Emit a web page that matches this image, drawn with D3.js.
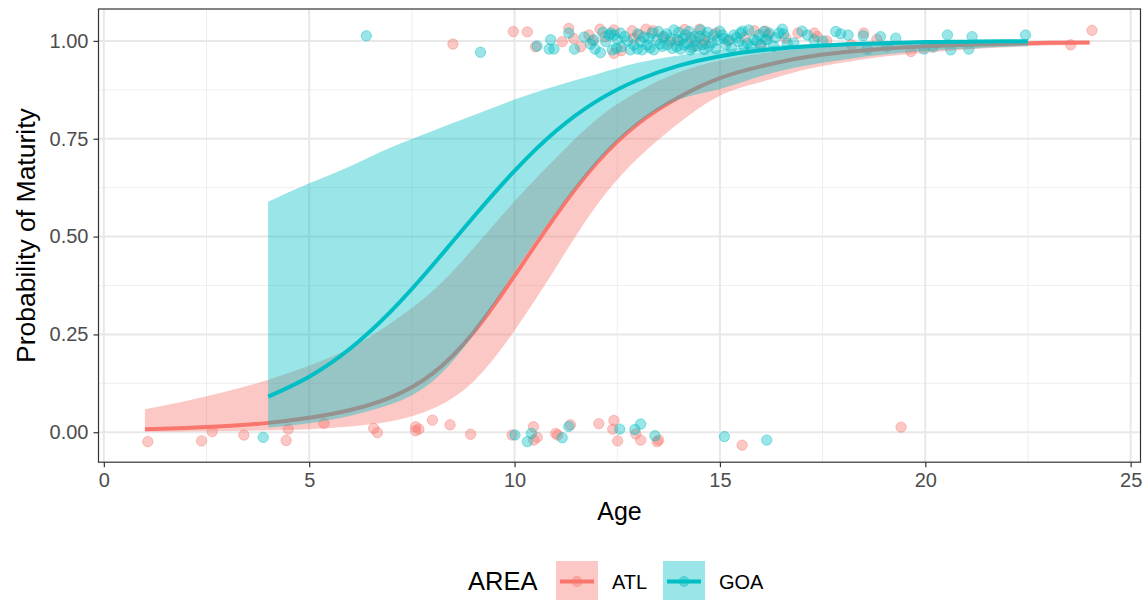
<!DOCTYPE html>
<html>
<head>
<meta charset="utf-8">
<script src="https://cdn.jsdelivr.net/npm/d3@7"></script>
<style>
  body { margin: 0; background: #fff; }
  text { font-family: "Liberation Sans", Arial, sans-serif; }
</style>
</head>
<body>
<div id="chart"></div>
<script>
// fitted curves
var atlAges = [1,2,3,4,5,6,7,8,9,10,11,12,13,14,15,16,17,18,19,20,21,22,23,24];
var atlFit = [0.008,0.011,0.016,0.024,0.037,0.057,0.09,0.15,0.255,0.40,0.553,0.688,0.788,0.856,0.905,0.935,0.957,0.971,0.980,0.986,0.990,0.993,0.995,0.996];
var atlLo  = [0.001,0.002,0.003,0.005,0.008,0.015,0.028,0.06,0.13,0.26,0.42,0.58,0.70,0.79,0.86,0.895,0.925,0.945,0.96,0.97,0.978,0.984,0.988,0.991];
var atlHi  = [0.059,0.08,0.105,0.134,0.17,0.215,0.28,0.36,0.47,0.59,0.70,0.80,0.87,0.92,0.95,0.968,0.98,0.987,0.992,0.995,0.997,0.998,0.999,0.999];

var goaAges = [4,5,6,7,8,9,10,11,12,13,14,15,16,17,18,19,20,21,22,22.5];
var goaFit = [0.091,0.142,0.214,0.310,0.426,0.550,0.668,0.769,0.846,0.900,0.937,0.961,0.976,0.985,0.991,0.994,0.997,0.998,0.999,0.999];
var goaLo  = [0.012,0.023,0.042,0.072,0.13,0.25,0.41,0.56,0.69,0.79,0.85,0.877,0.91,0.935,0.952,0.965,0.974,0.98,0.985,0.986];
var goaHi  = [0.589,0.636,0.68,0.728,0.77,0.81,0.85,0.885,0.915,0.944,0.963,0.977,0.986,0.991,0.995,0.997,0.998,0.999,0.9995,0.9996];

// jittered observations [age, maturity]
var atlPoints = [
  [1.07,-0.024],[2.38,-0.022],[2.64,0.002],[3.41,-0.007],[4.44,-0.021],[4.49,0.008],[5.36,0.023],
  [6.57,0.01],[6.66,-0.001],[7.59,0.014],[7.67,0.008],[7.59,0.004],[8.0,0.031],[8.43,0.019],
  [8.93,-0.005],[9.94,-0.007],[10.46,0.014],[10.47,-0.02],[10.55,-0.013],[11.0,-0.003],[11.05,-0.007],
  [11.36,0.019],[12.05,0.022],[12.42,0.03],[12.39,0.008],[12.51,-0.022],[12.95,-0.004],[13.07,-0.02],
  [13.47,-0.024],[13.51,-0.02],[15.54,-0.033],[19.41,0.013],
  [8.5,0.992],[9.97,1.024],[10.31,1.023],[10.51,0.985],[11.16,0.998],[11.32,1.032],[11.44,1.006],
  [11.61,0.985],[11.81,1.015],[11.9,1.0],[12.08,1.030],[12.2,1.01],[12.42,1.028],[12.42,0.968],
  [12.6,0.975],[12.86,1.026],[12.90,1.006],[13.03,1.015],[13.2,1.03],[13.37,1.026],[13.6,1.01],
  [13.80,0.998],[14.0,1.0],[14.14,1.029],[14.30,1.008],[14.37,0.987],[14.5,1.03],[14.61,1.003],
  [14.65,0.993],[14.9,1.02],[15.2,1.0],[15.6,1.01],[15.84,1.026],[16.0,0.99],[16.11,1.025],
  [16.18,1.015],[16.60,1.007],[16.9,1.02],[17.30,1.020],[17.37,1.011],[17.6,1.0],[18.2,0.99],
  [18.5,1.02],[18.82,1.004],[19.65,0.973],[23.54,0.990],[24.06,1.027]
];
var goaPoints = [
  [3.88,-0.013],[10.01,-0.007],[10.31,-0.024],[10.41,-0.003],[11.16,-0.014],[11.32,0.015],[12.56,0.008],
  [12.93,0.007],[13.07,0.021],[13.42,-0.009],[15.11,-0.011],[16.14,-0.02],
  [6.39,1.013],[9.17,0.971],[10.55,0.987],[10.88,1.003],[10.84,0.979],[10.96,0.979],[11.32,1.020],
  [11.46,0.979],[11.7,1.010],[11.85,0.992],[11.93,1.003],[11.96,0.979],[12.09,0.970],[12.15,1.022],
  [12.22,0.998],[12.30,1.015],[12.34,1.020],[12.38,0.977],[12.42,1.015],[12.48,0.981],[12.50,1.003],
  [12.58,1.020],[12.6,0.985],[12.68,1.011],[12.75,1.000],[12.82,0.977],[12.90,0.990],[12.99,0.979],
  [13.0,1.018],[13.07,0.998],[13.11,0.977],[13.15,1.010],[13.23,0.990],[13.27,1.007],[13.3,0.982],
  [13.35,1.020],[13.39,0.977],[13.47,1.003],[13.5,1.024],[13.55,0.992],[13.60,0.986],[13.64,1.011],
  [13.7,1.018],[13.72,0.990],[13.8,1.005],[13.84,0.981],[13.88,1.028],[13.95,0.985],[13.96,1.003],
  [14.0,1.022],[14.04,0.979],[14.1,1.006],[14.12,0.990],[14.16,1.015],[14.21,0.994],[14.25,1.024],
  [14.28,0.977],[14.32,0.982],[14.37,1.011],[14.4,1.000],[14.45,0.986],[14.5,1.012],[14.53,1.028],
  [14.57,0.990],[14.62,0.978],[14.65,1.011],[14.7,1.022],[14.73,0.986],[14.8,0.995],[14.85,1.015],
  [14.9,0.980],[14.94,1.003],[15.0,1.025],[15.06,1.015],[15.1,1.006],[15.14,0.990],[15.22,1.003],
  [15.28,0.982],[15.34,1.015],[15.4,1.008],[15.46,0.998],[15.50,1.020],[15.55,1.025],[15.58,0.986],
  [15.67,0.994],[15.70,1.028],[15.75,0.985],[15.83,1.003],[15.9,1.000],[15.95,1.015],[15.99,0.990],
  [16.07,1.024],[16.11,1.003],[16.15,1.003],[16.2,1.020],[16.31,0.986],[16.35,1.008],[16.44,1.020],
  [16.52,1.030],[16.55,1.018],[16.64,0.994],[16.8,0.995],[17.0,1.025],[17.13,1.015],[17.29,1.003],
  [17.5,1.000],[17.82,1.024],[17.94,1.018],[18.12,1.015],[18.49,1.013],[18.59,0.979],[18.91,1.011],
  [19.07,0.986],[19.28,1.007],[19.97,0.979],[20.19,0.984],[20.54,1.015],[20.62,0.977],[21.06,0.979],
  [21.14,1.011],[22.44,1.015]
];

var xTicks = [0, 5, 10, 15, 20, 25];
var yTicks = [0, 0.25, 0.5, 0.75, 1];
var xMinor = [2.5, 7.5, 12.5, 17.5, 22.5];
var yMinor = [0.125, 0.375, 0.625, 0.875];
var areas = ["ATL", "GOA"];
var colors = ["#F8766D", "#00BFC4"];

var width = 1145, height = 600;
var pLeft = 98.5, pRight = 1140.5, pTop = 9, pBottom = 462.2;

var svg = d3.select("#chart").append("svg")
    .attr("width", width)
    .attr("height", height);

var x = d3.scaleLinear().domain([-0.13, 25.24]).range([pLeft, pRight]);
var y = d3.scaleLinear().domain([-0.0765, 1.0815]).range([pBottom, pTop]);

// grid
var grid = svg.append("g");
grid.selectAll(".xminor").data(xMinor).enter().append("line")
    .attr("x1", d => x(d)).attr("x2", d => x(d)).attr("y1", pTop).attr("y2", pBottom)
    .style("stroke", "#EEEEEE").style("stroke-width", 1);
grid.selectAll(".yminor").data(yMinor).enter().append("line")
    .attr("x1", pLeft).attr("x2", pRight).attr("y1", d => y(d)).attr("y2", d => y(d))
    .style("stroke", "#EEEEEE").style("stroke-width", 1);
grid.selectAll(".xmajor").data(xTicks).enter().append("line")
    .attr("x1", d => x(d)).attr("x2", d => x(d)).attr("y1", pTop).attr("y2", pBottom)
    .style("stroke", "#E8E8E8").style("stroke-width", 2);
grid.selectAll(".ymajor").data(yTicks).enter().append("line")
    .attr("x1", pLeft).attr("x2", pRight).attr("y1", d => y(d)).attr("y2", d => y(d))
    .style("stroke", "#E8E8E8").style("stroke-width", 2);

// points first, smooths on top
function drawPoints(pts, color) {
    svg.append("g").selectAll("circle").data(pts).enter().append("circle")
        .attr("cx", d => x(d[0]))
        .attr("cy", d => y(d[1]))
        .attr("r", 5.2)
        .style("fill", color).style("fill-opacity", 0.4)
        .style("stroke", color).style("stroke-opacity", 0.4).style("stroke-width", 1);
}
drawPoints(atlPoints, colors[0]);
drawPoints(goaPoints, colors[1]);

function drawSmooth(ages, fit, lo, hi, color) {
    var rows = ages.map((a, i) => ({ a: a, f: fit[i], l: lo[i], h: hi[i] }));
    var area = d3.area().curve(d3.curveNatural)
        .x(d => x(d.a)).y0(d => y(d.l)).y1(d => y(d.h));
    var line = d3.line().curve(d3.curveNatural)
        .x(d => x(d.a)).y(d => y(d.f));
    svg.append("path").datum(rows).attr("d", area)
        .style("fill", color).style("fill-opacity", 0.4);
    svg.append("path").datum(rows).attr("d", line)
        .style("fill", "none").style("stroke", color).style("stroke-width", 4);
}
drawSmooth(atlAges, atlFit, atlLo, atlHi, colors[0]);
drawSmooth(goaAges, goaFit, goaLo, goaHi, colors[1]);

// panel border
svg.append("rect")
    .attr("x", pLeft).attr("y", pTop)
    .attr("width", pRight - pLeft).attr("height", pBottom - pTop)
    .style("fill", "none").style("stroke", "#333333").style("stroke-width", 1.2);

// axes
var xAxis = svg.append("g")
    .attr("transform", "translate(0," + pBottom + ")")
    .call(d3.axisBottom(x).tickValues(xTicks).tickSize(5).tickPadding(6).tickFormat(d3.format("d")));
var yAxis = svg.append("g")
    .attr("transform", "translate(" + pLeft + ",0)")
    .call(d3.axisLeft(y).tickValues(yTicks).tickSize(5).tickPadding(5).tickFormat(d3.format(".2f")));
[xAxis, yAxis].forEach(function(g) {
    g.select(".domain").remove();
    g.selectAll(".tick line").style("stroke", "#333333").style("stroke-width", 1.2);
    g.selectAll(".tick text").style("fill", "#4D4D4D").style("font-size", "20px")
        .style("font-family", "'Liberation Sans', Arial, sans-serif");
});

svg.append("text")
    .attr("x", (pLeft + pRight) / 2).attr("y", 520)
    .attr("text-anchor", "middle")
    .style("font-size", "25px").style("fill", "#000")
    .text("Age");
svg.append("text")
    .attr("transform", "translate(35," + ((pTop + pBottom) / 2) + ") rotate(-90)")
    .attr("text-anchor", "middle")
    .style("font-size", "26.5px").style("fill", "#000")
    .text("Probability of Maturity");

// legend
var legend = svg.append("g");
legend.append("text")
    .attr("x", 468).attr("y", 590)
    .style("font-size", "25.5px").style("fill", "#000")
    .text("AREA");
var keyX = [556, 663];
areas.forEach(function(name, i) {
    var kx = keyX[i], ky = 561, kw = 42, kh = 39;
    legend.append("rect")
        .attr("x", kx).attr("y", ky).attr("width", kw).attr("height", kh)
        .style("fill", colors[i]).style("fill-opacity", 0.4);
    legend.append("circle")
        .attr("cx", kx + kw / 2).attr("cy", ky + kh / 2 + 1).attr("r", 5)
        .style("fill", colors[i]).style("fill-opacity", 0.4)
        .style("stroke", colors[i]).style("stroke-opacity", 0.4);
    legend.append("line")
        .attr("x1", kx + 4).attr("x2", kx + kw - 4)
        .attr("y1", ky + kh / 2 + 1).attr("y2", ky + kh / 2 + 1)
        .style("stroke", colors[i]).style("stroke-width", 4);
    legend.append("text")
        .attr("x", kx + kw + 14).attr("y", 589)
        .style("font-size", "20px").style("fill", "#000")
        .text(name);
});
</script>
</body>
</html>
